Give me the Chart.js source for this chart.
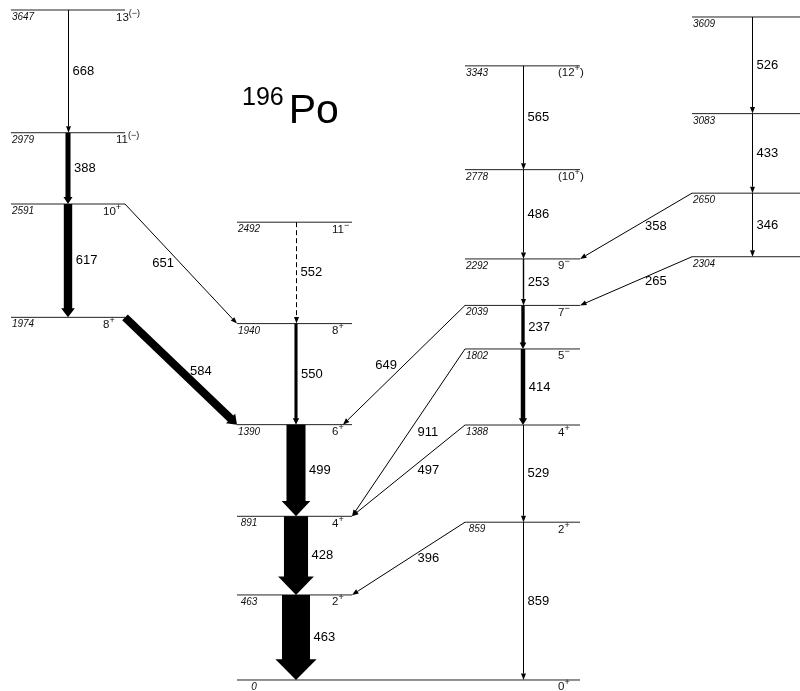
<!DOCTYPE html>
<html>
<head>
<meta charset="utf-8">
<script src="https://cdn.jsdelivr.net/npm/chart.js@4"></script>
<style>
html, body { margin: 0; padding: 0; background: #fff; }
#wrap { width: 800px; height: 691px; position: relative; }
</style>
</head>
<body>
<div id="wrap"><canvas id="scheme"></canvas></div>
<script>
// Levels of 196Po: energy (keV), spin/parity ('^' toggles superscript), band
const levelEnergy = [0, 463, 891, 1390, 1940, 2492, 1974, 2591, 2979, 3647, 859, 1388, 1802, 2039, 2292, 2778, 3343, 2304, 2650, 3083, 3609];
const levelSpin = ['0^+', '2^+', '4^+', '6^+', '8^+', '11^−', '8^+', '10^+', '11^(−)', '13^(−)', '2^+', '4^+', '5^−', '7^−', '9^−', '(10^+^)', '(12^+^)', '', '', '', ''];
const levelBand = ['B', 'B', 'B', 'B', 'B', 'B', 'A', 'A', 'A', 'A', 'C', 'C', 'C', 'C', 'C', 'C', 'C', 'D', 'D', 'D', 'D'];

// Gamma transitions: energy label, initial level, final level, relative intensity
const gammaEnergy = [463, 428, 499, 550, 552, 584, 617, 388, 668, 651, 859, 529, 414, 237, 253, 486, 565, 649, 911, 497, 396, 358, 265, 346, 433, 526];
const gammaFrom = [463, 891, 1390, 1940, 2492, 1974, 2591, 2979, 3647, 2591, 859, 1388, 1802, 2039, 2292, 2778, 3343, 2039, 1802, 1388, 859, 2650, 2304, 2650, 3083, 3609];
const gammaTo = [0, 463, 891, 1390, 1940, 1390, 1974, 2591, 2979, 1940, 0, 859, 1388, 1802, 2039, 2292, 2778, 1390, 891, 891, 463, 2292, 2039, 2304, 2650, 3083];
const gammaIntensity = [100, 86, 68, 11, 3, 29, 30, 18, 3, 3, 3, 3, 16, 12, 5, 3, 3, 3, 3, 3, 3, 3, 3, 3, 3, 3];
const gammaTentative = [552];

// drawing layout (x in axis units)
const bandSpan = { A: [11, 125], B: [237, 352], C: [465, 580], D: [692, 805] };
const bandArrowX = { A: 68, B: 296, C: 523, D: 752 };
const bandSpinX = { A: 103, B: 332, C: 558 };
const spinShift = { 3647: 13, 2979: 13 };
const labelLeftOf = [651, 649];
const tipInset = { 649: 9 };

function levelIndex(e) { return levelEnergy.indexOf(e); }
function levelSpan(i) {
  const s = bandSpan[levelBand[i]].slice();
  if (levelEnergy[i] === 0) s[1] = bandSpan.C[1];
  return s;
}

const levelSets = levelEnergy.map((e, i) => {
  const s = levelSpan(i);
  return {
    data: [{ x: s[0], y: e }, { x: s[1], y: e }],
    showLine: true,
    borderColor: '#222',
    borderWidth: 1,
    pointRadius: 0,
    clip: false
  };
});

function drawArrow(ctx, x0, y0, x1, y1, w, dashed) {
  const len = Math.hypot(x1 - x0, y1 - y0);
  const dx = (x1 - x0) / len, dy = (y1 - y0) / len;
  const nx = -dy, ny = dx;
  const hl = Math.max(6.5, 0.6 * w + 4);
  const hw = Math.max(5, 1.4 * w + 2);
  const bx = x1 - dx * hl, by = y1 - dy * hl;
  ctx.fillStyle = '#000';
  ctx.strokeStyle = '#000';
  if (w <= 1.6) {
    ctx.save();
    ctx.lineWidth = w;
    if (dashed) ctx.setLineDash([5, 3]);
    ctx.beginPath();
    ctx.moveTo(x0, y0);
    ctx.lineTo(bx, by);
    ctx.stroke();
    ctx.restore();
    ctx.beginPath();
    ctx.moveTo(x1, y1);
    ctx.lineTo(bx + nx * hw / 2, by + ny * hw / 2);
    ctx.lineTo(bx - nx * hw / 2, by - ny * hw / 2);
    ctx.closePath();
    ctx.fill();
  } else {
    ctx.beginPath();
    ctx.moveTo(x0 + nx * w / 2, y0 + ny * w / 2);
    ctx.lineTo(bx + nx * w / 2, by + ny * w / 2);
    ctx.lineTo(bx + nx * hw / 2, by + ny * hw / 2);
    ctx.lineTo(x1, y1);
    ctx.lineTo(bx - nx * hw / 2, by - ny * hw / 2);
    ctx.lineTo(bx - nx * w / 2, by - ny * w / 2);
    ctx.lineTo(x0 - nx * w / 2, y0 - ny * w / 2);
    ctx.closePath();
    ctx.fill();
  }
}

function drawSpin(ctx, text, x, y) {
  let cx = x;
  text.split('^').forEach((p, k) => {
    const sup = k % 2 === 1;
    ctx.font = sup ? '9px "Liberation Sans", Arial' : '11.5px "Liberation Sans", Arial';
    ctx.fillText(p, cx, sup ? y - 5 : y);
    cx += ctx.measureText(p).width;
  });
}

const schemePlugin = {
  id: 'scheme',
  afterDatasetsDraw(chart) {
    const ctx = chart.ctx;
    const px = v => chart.scales.x.getPixelForValue(v);
    const py = e => chart.scales.y.getPixelForValue(e);
    ctx.save();

    // level labels
    levelEnergy.forEach((e, i) => {
      const s = levelSpan(i);
      const y = py(e);
      ctx.fillStyle = '#111';
      ctx.textBaseline = 'alphabetic';
      ctx.textAlign = 'center';
      ctx.font = 'italic 10px "Liberation Sans", Arial';
      ctx.fillText(String(e), px(s[0] + (e === 0 ? 17 : 12)), y + 10);
      if (levelSpin[i]) {
        ctx.textAlign = 'left';
        const band = e === 0 ? 'C' : levelBand[i];
        drawSpin(ctx, levelSpin[i], px(bandSpinX[band] + (spinShift[e] || 0)), y + 10.5);
      }
    });

    // transitions
    gammaEnergy.forEach((g, k) => {
      const a = levelIndex(gammaFrom[k]), b = levelIndex(gammaTo[k]);
      const w = Math.max(1, gammaIntensity[k] * 0.28);
      const ya = py(levelEnergy[a]), yb = py(levelEnergy[b]);
      const bandA = levelBand[a], bandB = levelBand[b];
      const vertical = bandA === bandB || (levelEnergy[b] === 0 && bandA === 'C');
      let x0, x1;
      if (vertical) {
        x0 = x1 = px(bandArrowX[bandA]) + (w <= 1.6 ? 0.5 : 0);
      } else if (bandSpan[bandA][0] < bandSpan[bandB][0]) {
        x0 = px(levelSpan(a)[1]); x1 = px(levelSpan(b)[0]);
      } else {
        x0 = px(levelSpan(a)[0]); x1 = px(levelSpan(b)[1] - (tipInset[g] || 0));
      }
      drawArrow(ctx, x0, ya, x1, yb, w, gammaTentative.includes(g));

      ctx.fillStyle = '#000';
      ctx.font = '13px "Liberation Sans", Arial';
      ctx.textBaseline = 'middle';
      const my = (ya + yb) / 2, mx = (x0 + x1) / 2;
      if (vertical) {
        ctx.textAlign = 'left';
        ctx.fillText(String(g), x0 + w / 2 + 3.5, my);
      } else if (labelLeftOf.includes(g)) {
        ctx.textAlign = 'right';
        ctx.fillText(String(g), mx - 7, my);
      } else {
        ctx.textAlign = 'left';
        ctx.fillText(String(g), mx + 9, my);
      }
    });

    // nucleus title
    ctx.fillStyle = '#000';
    ctx.textAlign = 'left';
    ctx.textBaseline = 'alphabetic';
    ctx.font = '25px "Liberation Sans", Arial';
    ctx.fillText('196', 242, 105);
    const sw = ctx.measureText('196').width;
    ctx.font = '41px "Liberation Sans", Arial';
    ctx.fillText('Po', 242 + sw + 5, 123);
    ctx.restore();
  }
};

new Chart(document.getElementById('scheme').getContext('2d'), {
  type: 'scatter',
  data: { datasets: levelSets },
  options: {
    responsive: true,
    maintainAspectRatio: false,
    animation: false,
    layout: { padding: 0 },
    plugins: { legend: { display: false }, tooltip: { enabled: false } },
    scales: {
      x: { type: 'linear', min: 0, max: 800, display: false },
      y: { type: 'linear', min: -59.9, max: 3701.5, display: false }
    }
  },
  plugins: [schemePlugin]
});
</script>
</body>
</html>
